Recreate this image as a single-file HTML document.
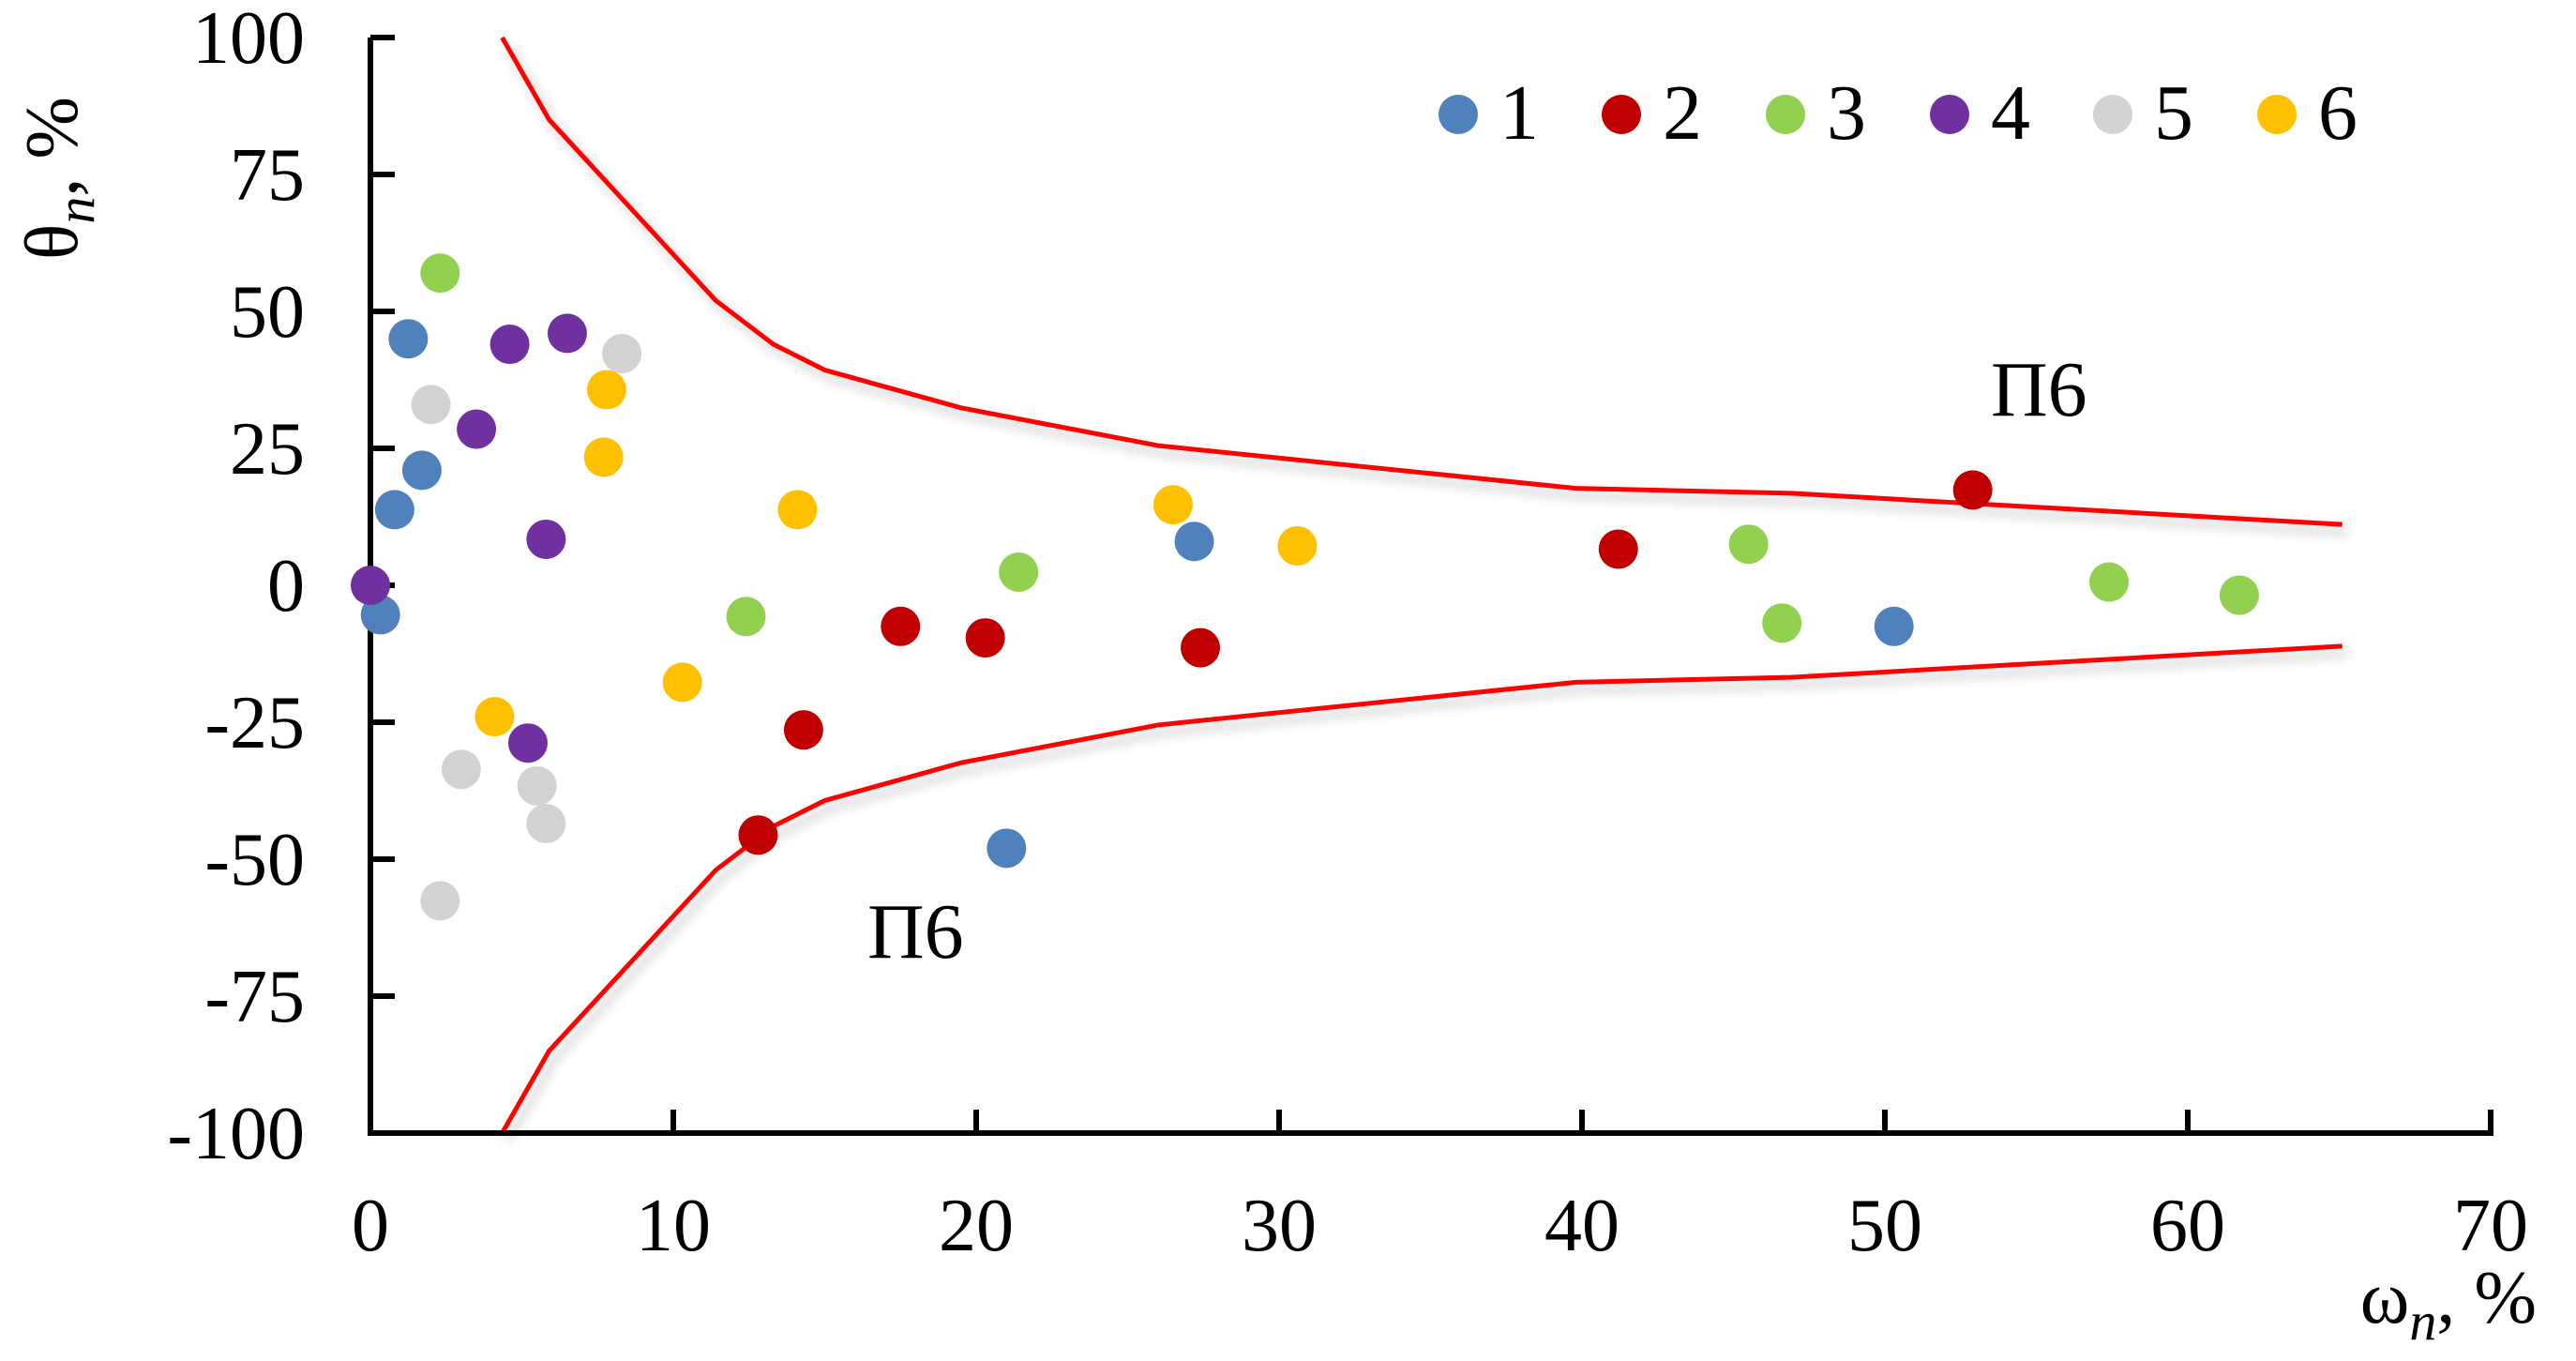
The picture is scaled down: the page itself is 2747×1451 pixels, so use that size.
<!DOCTYPE html>
<html><head><meta charset="utf-8"><style>
html,body{margin:0;padding:0;background:#fff;}
svg, svg text{font-family:"Liberation Serif","Times New Roman",serif;}
svg{display:block;}
</style></head><body>
<svg id="chart" width="2747" height="1451" viewBox="0 0 2747 1451" xmlns="http://www.w3.org/2000/svg" font-family="Liberation Serif, serif">
<defs><filter id="sh" x="-10%" y="-10%" width="120%" height="120%"><feGaussianBlur in="SourceAlpha" stdDeviation="6"/><feOffset dx="6" dy="8"/><feComponentTransfer><feFuncA type="linear" slope="0.25"/></feComponentTransfer><feMerge><feMergeNode/><feMergeNode in="SourceGraphic"/></feMerge></filter></defs>
<g id="plot"></g>
</svg>
<script>
const xTicks=[0,10,20,30,40,50,60,70];
const yTicks=[100,75,50,25,0,-25,-50,-75,-100];
const s1x=[1.25,0.8,1.7,0.33,21,27.2,50.3], s1y=[45,13.8,21,-5.4,-48,8,-7.5];
const s2x=[17.5,20.3,14.3,12.8,27.4,41.2,52.9], s2y=[-7.5,-9.6,-26.4,-45.6,-11.4,6.6,17.4];
const s3x=[2.3,12.4,21.4,45.5,46.6,57.4,61.7], s3y=[57,-5.7,2.4,7.5,-6.9,0.6,-1.8];
const s4x=[0,3.5,4.6,6.5,5.8,5.2], s4y=[0,28.5,44,46,8.4,-28.8];
const s5x=[8.3,2,3,5.5,5.8,2.3], s5y=[42.3,33,-33.6,-36.6,-43.5,-57.6];
const s6x=[7.8,7.7,14.1,26.5,30.6,10.3,4.1], s6y=[35.7,23.4,13.8,14.7,7.2,-17.7,-24];
const envX=[4.35,5.9,11.4,13.3,15,19.5,26,39.8,46.9,65.1];
const envUpper=[100,85,52,44,39.3,32.4,25.5,17.7,16.8,11.1];
const envLower=[-100,-85,-52,-44,-39.3,-32.4,-25.5,-17.7,-16.8,-11.1];
const seriesNames=["1","2","3","4","5","6"];
const colors=["#4f81bd","#c00000","#92d050","#7030a0","#d3d3d3","#ffc000"];

const X0=395,X1=2656,Y0=40,Y1=1208;
const sx=v=>X0+(v-0)/(70-0)*(X1-X0);
const sy=v=>Y0+(100-v)/200*(Y1-Y0);
const NS="http://www.w3.org/2000/svg";
const g=document.getElementById('plot');
function mk(t,a,txt){const e=document.createElementNS(NS,t);for(const k in a)e.setAttribute(k,a[k]);if(t==='text')e.setAttribute('font-family','Liberation Serif, serif');if(txt!=null)e.textContent=txt;g.appendChild(e);return e;}

[envUpper,envLower].forEach((arr,i)=>{
  const p=mk('polyline',{points:envX.map((x,j)=>sx(x)+','+sy(arr[j])).join(' '),fill:'none',stroke:'#ff0000','stroke-width':5,filter:'url(#sh)'});
  
  
});
let e=mk('line',{x1:X0,y1:Y0,x2:X0,y2:Y1+3,stroke:'#000','stroke-width':6});


e=mk('line',{x1:X0-3,y1:Y1,x2:X1+3,y2:Y1,stroke:'#000','stroke-width':6});


yTicks.forEach(v=>{
  const t=mk('line',{x1:X0,y1:sy(v),x2:X0+26,y2:sy(v),stroke:'#000','stroke-width':6});
  
  
  const l=mk('text',{x:325,y:sy(v)+27,'text-anchor':'end','font-size':80},String(v));
  
  
});
xTicks.forEach(v=>{
  if(v>0){const t=mk('line',{x1:sx(v),y1:Y1,x2:sx(v),y2:Y1-25,stroke:'#000','stroke-width':6});
  
  }
  const l=mk('text',{x:sx(v),y:1333,'text-anchor':'middle','font-size':80},String(v));
  
  
});
const SX=[s1x,s2x,s3x,s4x,s5x,s6x],SY=[s1y,s2y,s3y,s4y,s5y,s6y];
SX.forEach((xs,i)=>xs.forEach((x,j)=>{
  const c=mk('circle',{cx:sx(x),cy:sy(SY[i][j]),r:21,fill:colors[i]});
  
  
}));
const legX=[1555,1729,1904,2079,2253,2428];
seriesNames.forEach((n,i)=>{
  const c=mk('circle',{cx:legX[i],cy:122,r:21,fill:colors[i]});
  
  
  const t=mk('text',{x:legX[i]+44,y:148,'font-size':84},n);
  
  
});
e=mk('text',{x:2123,y:443,'font-size':84},'П6');


e=mk('text',{x:925,y:1021,'font-size':84},'П6');


e=mk('text',{x:2705,y:1410,'text-anchor':'end','font-size':80});
e.innerHTML='ω<tspan font-style="italic" font-size="58" dy="18">n</tspan><tspan dy="-18">, %</tspan>';


e=mk('text',{x:0,y:0,'text-anchor':'middle','font-size':80,transform:'translate(82,190) rotate(-90)'});
e.innerHTML='θ<tspan font-style="italic" font-size="58" dy="18">n</tspan><tspan dy="-18">, %</tspan>';


</script>
</body></html>
